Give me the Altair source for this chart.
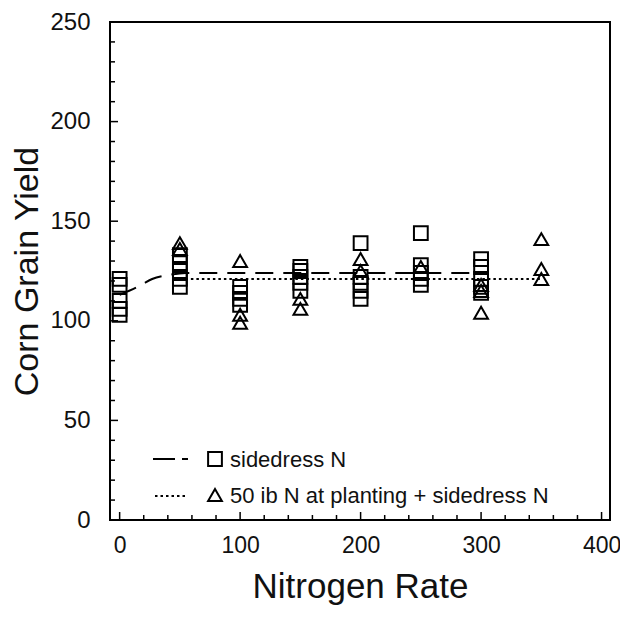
import altair as alt
import pandas as pd

# ---- data ----
sq_rates = [0, 50, 100, 150, 200, 250, 300]
sq_yields = [
    [121, 118, 110, 106, 103],
    [133, 129, 125, 121, 117],
    [117, 114, 111, 108],
    [127, 125, 122, 119, 115],
    [139, 122, 119, 115, 111],
    [144, 128, 124, 121, 118],
    [131, 127, 121, 117, 114],
]
tri_rates = [50, 100, 150, 200, 250, 300, 350]
tri_yields = [
    [139, 136],
    [130, 103, 99],
    [111, 106],
    [131, 125],
    [127],
    [118, 115, 104],
    [141, 126, 121],
]
dash_x = [0, 18, 27, 41, 55, 300]
dash_y = [113, 118, 121, 123, 124, 124]
dot_x = [50, 350]
dot_y = [121, 121]

y_minor_ticks = [v for v in range(0, 251, 10) if v % 50 != 0]
y_major_ticks = [0, 50, 100, 150, 200, 250]
x_minor_ticks = [v for v in range(0, 401, 20) if v % 100 != 0]
x_major_ticks = [0, 100, 200, 300, 400]
legend_labels = ["sidedress N", "50 ib N at planting + sidedress N"]

FONT = "Liberation Sans"
H = 498

sq_df = pd.DataFrame([(r, v) for r, vs in zip(sq_rates, sq_yields) for v in vs], columns=["x", "y"])
tri_df = pd.DataFrame([(r, v) for r, vs in zip(tri_rates, tri_yields) for v in vs], columns=["x", "y"])
dash_df = pd.DataFrame({"x": dash_x, "y": dash_y})
dot_df = pd.DataFrame({"x": dot_x, "y": dot_y})

xs = alt.Scale(domain=[-8, 407], nice=False, zero=False)
ys = alt.Scale(domain=[0, 250], nice=False)

X = alt.X("x:Q", scale=xs, title="Nitrogen Rate",
          axis=alt.Axis(values=x_major_ticks, ticks=False, domain=False, grid=False,
                        labelFontSize=23, labelPadding=14, titleFontSize=35, titlePadding=12,
                        labelFont=FONT, titleFont=FONT, titleFontWeight="normal",
                        labelColor="#111", titleColor="#111"))
Y = alt.Y("y:Q", scale=ys, title="Corn Grain Yield",
          axis=alt.Axis(values=y_major_ticks, ticks=False, domain=False, grid=False,
                        labelFontSize=24, labelPadding=20, titleFontSize=34, titlePadding=5,
                        labelFont=FONT, titleFont=FONT, titleFontWeight="normal",
                        labelColor="#111", titleColor="#111"))

squares = alt.Chart(sq_df).mark_point(shape="square", size=190, filled=False, color="black",
                                      strokeWidth=2, opacity=1).encode(x=X, y=Y)
tris = alt.Chart(tri_df).mark_point(shape="triangle-up", size=190, filled=False, color="black",
                                    strokeWidth=2, opacity=1).encode(x="x:Q", y="y:Q")
dash_line = alt.Chart(dash_df).mark_line(color="black", strokeWidth=2, strokeDash=[18, 10],
                                         interpolate="monotone").encode(x="x:Q", y="y:Q")
dot_line = alt.Chart(dot_df).mark_line(color="black", strokeWidth=2, strokeDash=[2.5, 3]).encode(
    x="x:Q", y="y:Q")


def yticks(vals, length):
    return alt.Chart(pd.DataFrame({"y": vals})).mark_rule(color="black", strokeWidth=1.5).encode(
        y="y:Q", x=alt.value(0), x2=alt.value(length))


def xticks(vals, length):
    return alt.Chart(pd.DataFrame({"x": vals})).mark_rule(color="black", strokeWidth=1.5).encode(
        x="x:Q", y=alt.value(H), y2=alt.value(H - length))


# legend (drawn inside the plot)
leg1 = pd.DataFrame({"t": [legend_labels[0]]})
leg2 = pd.DataFrame({"t": [legend_labels[1]]})
l1_line = alt.Chart(leg1).mark_rule(color="black", strokeWidth=2, strokeDash=[22, 7]).encode(
    x=alt.value(43), x2=alt.value(78), y=alt.value(437))
l1_sym = alt.Chart(leg1).mark_point(shape="square", size=190, filled=False, color="black",
                                    strokeWidth=2, opacity=1).encode(x=alt.value(105), y=alt.value(437))
l1_txt = alt.Chart(leg1).mark_text(align="left", baseline="middle", fontSize=22, font=FONT,
                                   color="#111").encode(x=alt.value(120), y=alt.value(438), text="t:N")
l2_line = alt.Chart(leg2).mark_rule(color="black", strokeWidth=2, strokeDash=[2.5, 3]).encode(
    x=alt.value(45), x2=alt.value(76), y=alt.value(474))
l2_sym = alt.Chart(leg2).mark_point(shape="triangle-up", size=190, filled=False, color="black",
                                    strokeWidth=2, opacity=1).encode(x=alt.value(105), y=alt.value(473))
l2_txt = alt.Chart(leg2).mark_text(align="left", baseline="middle", fontSize=22, font=FONT,
                                   color="#111").encode(x=alt.value(120), y=alt.value(474), text="t:N")

chart = alt.layer(squares, tris, dash_line, dot_line,
                  yticks(y_minor_ticks, 5), yticks(y_major_ticks, 8),
                  xticks(x_minor_ticks, 5), xticks(x_major_ticks, 8),
                  l1_line, l1_sym, l1_txt, l2_line, l2_sym, l2_txt).properties(
    width=500, height=H,
    autosize=alt.AutoSizeParams(type="none"),
    padding={"left": 102, "top": 14, "right": 10, "bottom": 90},
).configure(background="white").configure_view(stroke="black", strokeWidth=2)

chart.save("out.html", embed_options={"renderer": "svg", "actions": False})
